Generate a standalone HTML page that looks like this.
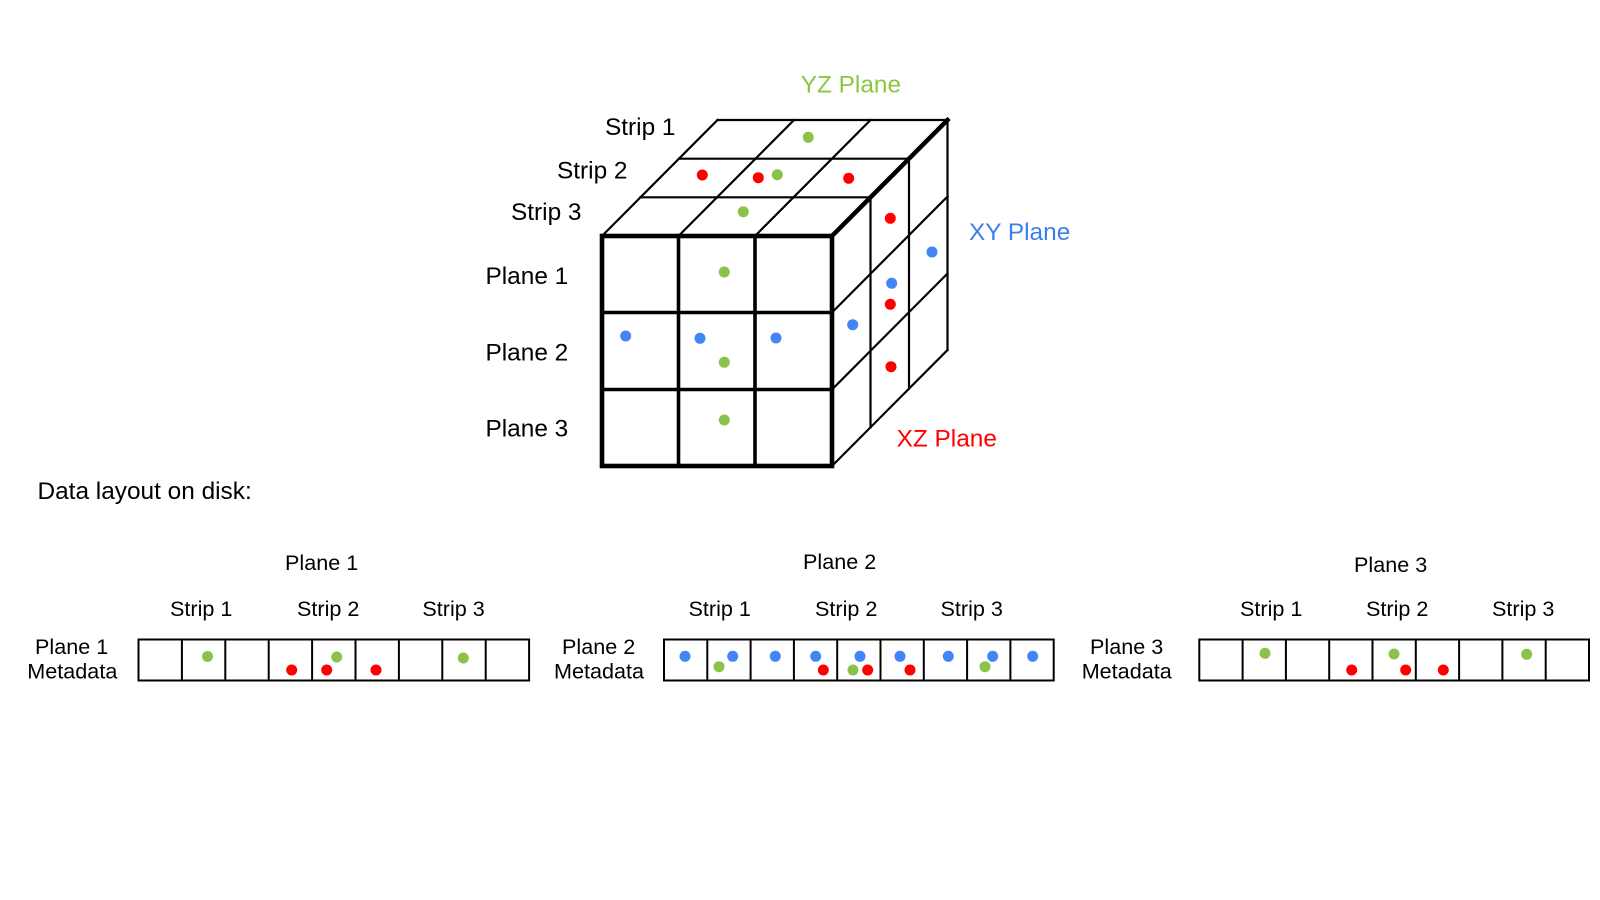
<!DOCTYPE html>
<html>
<head>
<meta charset="utf-8">
<style>
  html, body { margin:0; padding:0; background:#ffffff; }
  svg { display:block; }
  text { font-family: "Liberation Sans", Arial, sans-serif; fill:#000; }
  .c { font-size:24.4px; }
  .b { font-size:21.6px; }
</style>
</head>
<body>
<svg width="1600" height="900" viewBox="0 0 1600 900" xmlns="http://www.w3.org/2000/svg">
  <rect x="0" y="0" width="1600" height="900" fill="#fff"/>

  <!-- ===== CUBE ===== -->
  <g stroke="#000" fill="none" stroke-linecap="square">
    <!-- top face -->
    <line x1="717.5" y1="120" x2="947.5" y2="120" stroke-width="2.2"/>
    <line x1="679" y1="158.7" x2="909" y2="158.7" stroke-width="2.2"/>
    <line x1="640.5" y1="197.3" x2="870.5" y2="197.3" stroke-width="2.2"/>
    <line x1="602" y1="236" x2="717.5" y2="120" stroke-width="2.2"/>
    <line x1="678.5" y1="236" x2="794" y2="120" stroke-width="2.2"/>
    <line x1="755" y1="236" x2="870.5" y2="120" stroke-width="2.2"/>
    <!-- right face -->
    <line x1="870.5" y1="197.3" x2="870.5" y2="427.3" stroke-width="2.2"/>
    <line x1="909" y1="158.7" x2="909" y2="388.7" stroke-width="2.2"/>
    <line x1="947.5" y1="120" x2="947.5" y2="350" stroke-width="2.2"/>
    <line x1="832" y1="312.5" x2="947.5" y2="196.5" stroke-width="2.2"/>
    <line x1="832" y1="389.5" x2="947.5" y2="273.5" stroke-width="2.2"/>
    <line x1="832" y1="466" x2="947.5" y2="350" stroke-width="2.2"/>
    <!-- thick top-right edge -->
    <line x1="832" y1="236" x2="947.5" y2="120" stroke-width="4.5"/>
    <!-- front face inner -->
    <line x1="678.5" y1="236" x2="678.5" y2="466" stroke-width="3.6"/>
    <line x1="755" y1="236" x2="755" y2="466" stroke-width="3.6"/>
    <line x1="602" y1="312.5" x2="832" y2="312.5" stroke-width="3.6"/>
    <line x1="602" y1="389.5" x2="832" y2="389.5" stroke-width="3.6"/>
    <!-- front face outer -->
    <rect x="602" y="236" width="230" height="230" stroke-width="4.6" stroke-linejoin="miter"/>
  </g>

  <!-- cube dots -->
  <g>
    <circle cx="808.3" cy="137.3" r="5.5" fill="#8bc34a"/>
    <circle cx="702.3" cy="175" r="5.5" fill="#ff0000"/>
    <circle cx="758.3" cy="177.7" r="5.5" fill="#ff0000"/>
    <circle cx="777.3" cy="174.7" r="5.5" fill="#8bc34a"/>
    <circle cx="848.7" cy="178.3" r="5.5" fill="#ff0000"/>
    <circle cx="743.3" cy="211.7" r="5.5" fill="#8bc34a"/>

    <circle cx="724.3" cy="272" r="5.5" fill="#8bc34a"/>
    <circle cx="625.7" cy="336" r="5.5" fill="#4285f4"/>
    <circle cx="700" cy="338.3" r="5.5" fill="#4285f4"/>
    <circle cx="776" cy="338" r="5.5" fill="#4285f4"/>
    <circle cx="724.3" cy="362.3" r="5.5" fill="#8bc34a"/>
    <circle cx="724.3" cy="420" r="5.5" fill="#8bc34a"/>

    <circle cx="890.3" cy="218.3" r="5.5" fill="#ff0000"/>
    <circle cx="932" cy="252" r="5.5" fill="#4285f4"/>
    <circle cx="891.7" cy="283.3" r="5.5" fill="#4285f4"/>
    <circle cx="890.3" cy="304.3" r="5.5" fill="#ff0000"/>
    <circle cx="852.7" cy="324.7" r="5.5" fill="#4285f4"/>
    <circle cx="891" cy="366.7" r="5.5" fill="#ff0000"/>
  </g>

  <!-- cube labels -->
  <text class="c" x="800.7" y="92.5" style="fill:#8cc63f">YZ Plane</text>
  <text class="c" x="605" y="135">Strip 1</text>
  <text class="c" x="557" y="178.3">Strip 2</text>
  <text class="c" x="511" y="220">Strip 3</text>
  <text class="c" x="485.5" y="284">Plane 1</text>
  <text class="c" x="485.5" y="360.7">Plane 2</text>
  <text class="c" x="485.5" y="436.7">Plane 3</text>
  <text class="c" x="969" y="240" style="fill:#3b7fef">XY Plane</text>
  <text class="c" x="896.6" y="446.7" style="fill:#ff0000">XZ Plane</text>

  <text class="c" x="37.5" y="499">Data layout on disk:</text>

  <!-- ===== ROW 1 ===== -->
  <text class="b" x="285" y="570">Plane 1</text>
  <text class="b" x="170" y="616">Strip 1</text>
  <text class="b" x="297" y="616">Strip 2</text>
  <text class="b" x="422.4" y="616">Strip 3</text>
  <text class="b" x="35" y="654">Plane 1</text>
  <text class="b" x="27.3" y="678.3">Metadata</text>
  <g stroke="#000" stroke-width="2" fill="none">
    <rect x="138.5" y="639.5" width="390.6" height="41"/>
    <line x1="181.9" y1="639.5" x2="181.9" y2="680.5"/>
    <line x1="225.3" y1="639.5" x2="225.3" y2="680.5"/>
    <line x1="268.7" y1="639.5" x2="268.7" y2="680.5"/>
    <line x1="312.1" y1="639.5" x2="312.1" y2="680.5"/>
    <line x1="355.5" y1="639.5" x2="355.5" y2="680.5"/>
    <line x1="398.9" y1="639.5" x2="398.9" y2="680.5"/>
    <line x1="442.3" y1="639.5" x2="442.3" y2="680.5"/>
    <line x1="485.7" y1="639.5" x2="485.7" y2="680.5"/>
  </g>
  <circle cx="207.5" cy="656.5" r="5.5" fill="#8bc34a"/>
  <circle cx="291.7" cy="670" r="5.5" fill="#ff0000"/>
  <circle cx="326.7" cy="670" r="5.5" fill="#ff0000"/>
  <circle cx="336.7" cy="657" r="5.5" fill="#8bc34a"/>
  <circle cx="376" cy="670" r="5.5" fill="#ff0000"/>
  <circle cx="463.3" cy="658" r="5.5" fill="#8bc34a"/>

  <!-- ===== ROW 2 ===== -->
  <text class="b" x="803" y="569">Plane 2</text>
  <text class="b" x="688.5" y="616">Strip 1</text>
  <text class="b" x="815" y="616">Strip 2</text>
  <text class="b" x="940.5" y="616">Strip 3</text>
  <text class="b" x="562" y="654">Plane 2</text>
  <text class="b" x="554" y="678.3">Metadata</text>
  <g stroke="#000" stroke-width="2" fill="none">
    <rect x="664" y="639.5" width="389.7" height="41"/>
    <line x1="707.3" y1="639.5" x2="707.3" y2="680.5"/>
    <line x1="750.6" y1="639.5" x2="750.6" y2="680.5"/>
    <line x1="793.9" y1="639.5" x2="793.9" y2="680.5"/>
    <line x1="837.2" y1="639.5" x2="837.2" y2="680.5"/>
    <line x1="880.5" y1="639.5" x2="880.5" y2="680.5"/>
    <line x1="923.8" y1="639.5" x2="923.8" y2="680.5"/>
    <line x1="967.1" y1="639.5" x2="967.1" y2="680.5"/>
    <line x1="1010.4" y1="639.5" x2="1010.4" y2="680.5"/>
  </g>
  <circle cx="685" cy="656.3" r="5.5" fill="#4285f4"/>
  <circle cx="732.7" cy="656.3" r="5.5" fill="#4285f4"/>
  <circle cx="719" cy="666.7" r="5.5" fill="#8bc34a"/>
  <circle cx="775.3" cy="656.3" r="5.5" fill="#4285f4"/>
  <circle cx="815.7" cy="656.3" r="5.5" fill="#4285f4"/>
  <circle cx="823.3" cy="670" r="5.5" fill="#ff0000"/>
  <circle cx="860" cy="656.3" r="5.5" fill="#4285f4"/>
  <circle cx="853" cy="670" r="5.5" fill="#8bc34a"/>
  <circle cx="867.7" cy="670" r="5.5" fill="#ff0000"/>
  <circle cx="900" cy="656.3" r="5.5" fill="#4285f4"/>
  <circle cx="910" cy="670" r="5.5" fill="#ff0000"/>
  <circle cx="948.3" cy="656.3" r="5.5" fill="#4285f4"/>
  <circle cx="992.7" cy="656.3" r="5.5" fill="#4285f4"/>
  <circle cx="985" cy="666.7" r="5.5" fill="#8bc34a"/>
  <circle cx="1032.7" cy="656.3" r="5.5" fill="#4285f4"/>

  <!-- ===== ROW 3 ===== -->
  <text class="b" x="1354" y="572">Plane 3</text>
  <text class="b" x="1240" y="616">Strip 1</text>
  <text class="b" x="1366" y="616">Strip 2</text>
  <text class="b" x="1492" y="616">Strip 3</text>
  <text class="b" x="1090" y="654">Plane 3</text>
  <text class="b" x="1081.7" y="678.3">Metadata</text>
  <g stroke="#000" stroke-width="2" fill="none">
    <rect x="1199.3" y="639.5" width="389.7" height="41"/>
    <line x1="1242.6" y1="639.5" x2="1242.6" y2="680.5"/>
    <line x1="1285.9" y1="639.5" x2="1285.9" y2="680.5"/>
    <line x1="1329.2" y1="639.5" x2="1329.2" y2="680.5"/>
    <line x1="1372.5" y1="639.5" x2="1372.5" y2="680.5"/>
    <line x1="1415.8" y1="639.5" x2="1415.8" y2="680.5"/>
    <line x1="1459.1" y1="639.5" x2="1459.1" y2="680.5"/>
    <line x1="1502.4" y1="639.5" x2="1502.4" y2="680.5"/>
    <line x1="1545.7" y1="639.5" x2="1545.7" y2="680.5"/>
  </g>
  <circle cx="1265" cy="653.3" r="5.5" fill="#8bc34a"/>
  <circle cx="1351.7" cy="670" r="5.5" fill="#ff0000"/>
  <circle cx="1394" cy="654" r="5.5" fill="#8bc34a"/>
  <circle cx="1405.7" cy="670" r="5.5" fill="#ff0000"/>
  <circle cx="1443.3" cy="670" r="5.5" fill="#ff0000"/>
  <circle cx="1526.7" cy="654.3" r="5.5" fill="#8bc34a"/>
</svg>
</body>
</html>
